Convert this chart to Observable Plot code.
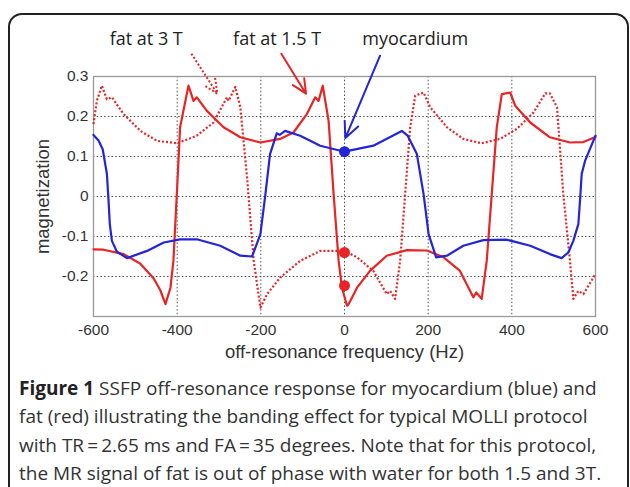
<!DOCTYPE html>
<html><head><meta charset="utf-8">
<script src="https://cdn.jsdelivr.net/npm/d3@7"></script>
<script src="https://cdn.jsdelivr.net/npm/@observablehq/plot@0.6"></script>
<style>
html,body{margin:0;padding:0;background:#fff;width:630px;height:487px;overflow:hidden;}
#box{position:absolute;left:8px;top:13px;width:617px;height:520px;border:2px solid #222;border-radius:14px;box-sizing:content-box;}
#chart{position:absolute;left:0;top:0;}
#caption{position:absolute;left:19px;top:374px;font-family:"Open Sans",sans-serif;font-size:19px;line-height:28.3px;color:#333;white-space:nowrap;}
#caption b{color:#222;}
</style></head><body>
<div id="box"></div>
<div id="chart"></div>
<div id="caption"><b>Figure 1</b> SSFP off-resonance response for myocardium (blue) and<br>fat (red) illustrating the banding effect for typical MOLLI protocol<br>with TR&#8201;=&#8201;2.65 ms and FA&#8201;=&#8201;35 degrees. Note that for this protocol,<br>the MR signal of fat is out of phase with water for both 1.5 and 3T.</div>
<script>
// myocardium (blue, solid)
const myoFreq = [-600,-588,-578,-568,-564,-561,-556,-544,-520,-472,-432,-393,-353,-297,-249,-221,-201,-189,-178,-162,-155,-142,-106,-58,0,69,137,151,173,189,201,219,245,284,332,388,444,491,519,535,547,559,563,567,575,600];
const myoMag  = [0.154,0.140,0.118,0.057,-0.011,-0.069,-0.111,-0.138,-0.154,-0.136,-0.115,-0.107,-0.107,-0.123,-0.148,-0.150,-0.094,0.006,0.106,0.158,0.154,0.164,0.152,0.127,0.112,0.127,0.164,0.152,0.106,0.006,-0.094,-0.152,-0.148,-0.123,-0.109,-0.108,-0.123,-0.144,-0.154,-0.140,-0.111,-0.069,-0.010,0.056,0.089,0.152];
// fat at 1.5 T (red, solid)
const fat15Freq = [-600,-576,-528,-488,-456,-440,-428,-416,-409,-400,-393,-373,-361,-353,-329,-289,-249,-201,-154,-122,-90,-70,-62,-52,-38,-26,-14,-6,6,10,30,61,101,149,197,237,276,308,315,328,340,352,364,376,396,408,444,491,539,571,600];
const fat15Mag  = [-0.132,-0.133,-0.144,-0.168,-0.205,-0.235,-0.269,-0.228,-0.161,0.023,0.173,0.277,0.239,0.248,0.214,0.173,0.148,0.135,0.144,0.160,0.206,0.248,0.239,0.277,0.189,0.006,-0.161,-0.228,-0.273,-0.269,-0.228,-0.186,-0.148,-0.134,-0.135,-0.152,-0.186,-0.252,-0.240,-0.256,-0.161,0.006,0.173,0.256,0.260,0.227,0.185,0.148,0.135,0.136,0.149];
// fat at 3 T (red, dotted)
const fat3Freq = [-600,-592,-580,-568,-556,-528,-488,-448,-400,-353,-313,-281,-277,-261,-249,-233,-217,-201,-185,-154,-106,-58,0,30,69,101,109,121,133,145,157,169,189,205,245,284,328,372,412,452,480,491,508,523,539,547,559,571,600];
const fat3Mag  = [0.181,0.239,0.277,0.243,0.248,0.206,0.164,0.139,0.133,0.152,0.185,0.248,0.239,0.274,0.223,0.048,-0.161,-0.278,-0.244,-0.203,-0.161,-0.136,-0.136,-0.152,-0.186,-0.244,-0.236,-0.256,-0.161,0.006,0.173,0.252,0.260,0.223,0.173,0.144,0.133,0.144,0.169,0.210,0.258,0.258,0.223,0.006,-0.161,-0.256,-0.236,-0.244,-0.194];
// highlighted values at 0 Hz
const myoDotFreq = [0];
const myoDotMag = [0.112];
const fatDotFreq = [0, 0];
const fatDotMag = [-0.140, -0.223];
// ticks
const xTicks = [-600,-400,-200,0,200,400,600];
const xGrid = [-400,-200,0,200,400];
const yTicks = [-0.2,-0.1,0,0.1,0.2,0.3];
const yGrid = [-0.2,-0.1,0,0.1,0.2];
// annotations (data coordinates)
const annText = ["fat at 3 T","fat at 1.5 T","myocardium"];
const annFreq = [-474,-161,169];
const annMag = [0.394,0.394,0.394];
const arrowFat3 = {x1:-366, y1:0.357, x2:-304, y2:0.257};
const arrowFat15 = {x1:-151, y1:0.357, x2:-92, y2:0.257};
const arrowMyo = {x1:85, y1:0.352, x2:2, y2:0.146};

const RED = "#e82424", BLUE = "#2424d8";
const toRows = (xs, ys) => xs.map((x, i) => ({x, y: ys[i]}));

const chart = Plot.plot({
  width: 630, height: 370,
  marginLeft: 93, marginRight: 35, marginTop: 76, marginBottom: 54,
  style: {fontFamily: "'Liberation Sans', Arial, sans-serif", color: "#333", background: "transparent"},
  x: {domain: [-600, 600]},
  y: {domain: [-0.3, 0.3]},
  marks: [
    Plot.gridX(xGrid, {stroke: "#333", strokeOpacity: 0.85, strokeDasharray: "1.5,2.2"}),
    Plot.gridY(yGrid, {stroke: "#333", strokeOpacity: 0.85, strokeDasharray: "1.5,2.2"}),
    Plot.frame({stroke: "#999", strokeWidth: 1.3}),
    Plot.axisX({ticks: xTicks, tickSize: 0, tickPadding: 7, tickFormat: d => `${d}`, label: null, fontSize: 15.5}),
    Plot.axisY({ticks: yTicks, tickSize: 0, tickPadding: 5, tickFormat: d => `${d}`, label: null, fontSize: 15.5}),
    Plot.text(["magnetization"], {frameAnchor: "left", rotate: -90, textAnchor: "middle", lineAnchor: "middle", dx: -50, fontSize: 18.5, fill: "#333"}),
    Plot.text(["off-resonance frequency (Hz)"], {frameAnchor: "bottom", textAnchor: "middle", lineAnchor: "middle", dy: 36, fontSize: 18.5, fill: "#333"}),
    Plot.line(toRows(fat3Freq, fat3Mag), {x: "x", y: "y", stroke: RED, strokeWidth: 2.2, strokeDasharray: "2,2", strokeLinecap: "butt"}),
    Plot.line(toRows(fat15Freq, fat15Mag), {x: "x", y: "y", stroke: RED, strokeWidth: 2.2}),
    Plot.line(toRows(myoFreq, myoMag), {x: "x", y: "y", stroke: BLUE, strokeWidth: 2.2}),
    Plot.dot(toRows(myoDotFreq, myoDotMag), {x: "x", y: "y", r: 5.5, fill: BLUE}),
    Plot.dot(toRows(fatDotFreq, fatDotMag), {x: "x", y: "y", r: 5.5, fill: RED}),
    Plot.arrow([arrowFat3], {x1: "x1", y1: "y1", x2: "x2", y2: "y2", stroke: RED, strokeWidth: 2, strokeDasharray: "2,2", strokeLinecap: "butt", headLength: 13, headAngle: 50}),
    Plot.arrow([arrowFat15], {x1: "x1", y1: "y1", x2: "x2", y2: "y2", stroke: RED, strokeWidth: 2, headLength: 13, headAngle: 50}),
    Plot.arrow([arrowMyo], {x1: "x1", y1: "y1", x2: "x2", y2: "y2", stroke: BLUE, strokeWidth: 2, headLength: 13, headAngle: 50}),
    Plot.text(annText.map((t, i) => ({t, x: annFreq[i], y: annMag[i]})), {x: "x", y: "y", text: "t", fontSize: 18, fill: "#222", fontFamily: "'Open Sans', sans-serif"})
  ]
});
document.getElementById("chart").appendChild(chart);
</script>
</body></html>
